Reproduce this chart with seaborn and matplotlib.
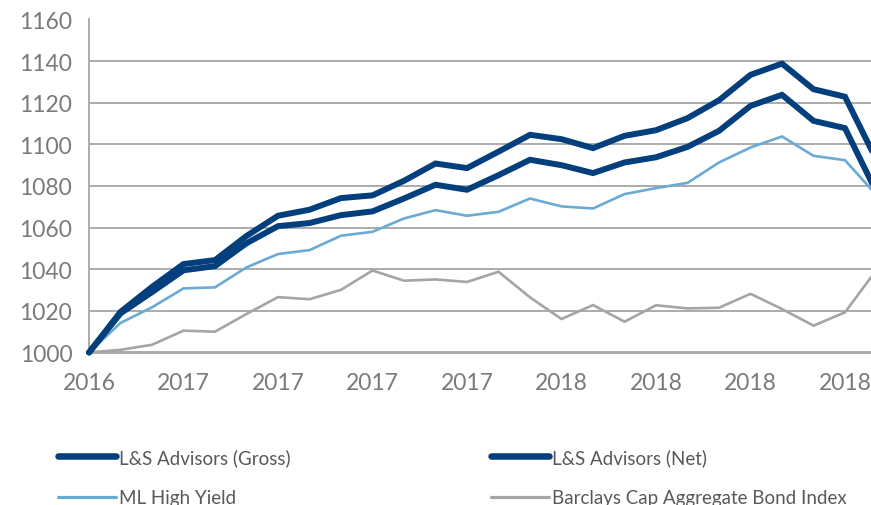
import matplotlib
matplotlib.use("Agg")
import matplotlib.pyplot as plt
import seaborn as sns
from matplotlib.lines import Line2D

# ---------------- data (monthly, indexed to 1000) ----------------
tick_labels = ["2016", "2017", "2017", "2017", "2017", "2018", "2018", "2018", "2018"]

gross = [1000, 1019.5, 1031.5, 1042.5, 1044.4, 1056, 1065.7, 1068.6, 1074.2, 1075.5,
         1082.5, 1090.8, 1088.6, 1096.5, 1104.6, 1102.5, 1098.2, 1104.1, 1106.8, 1112.6,
         1121.2, 1133.4, 1138.8, 1126.5, 1122.9, 1092.5]
net = [1000, 1018.8, 1029, 1039.5, 1041.5, 1052.5, 1060.7, 1062.2, 1066, 1067.8,
       1074, 1080.6, 1078.2, 1085.2, 1092.6, 1090, 1086.2, 1091.3, 1093.8, 1098.8,
       1106.5, 1118.5, 1123.8, 1111.3, 1107.8, 1077]
ml_high_yield = [1000, 1014.2, 1021.7, 1030.8, 1031.3, 1040.9, 1047.3, 1049.2, 1056.1, 1058,
                 1064.4, 1068.4, 1065.7, 1067.6, 1074, 1070.2, 1069.2, 1076.1, 1079, 1081.5,
                 1091.3, 1098.5, 1103.8, 1094.5, 1092.4, 1075.6]
barclays = [1000, 1001.3, 1003.7, 1010.5, 1010, 1018.5, 1026.6, 1025.6, 1030.1, 1039.4,
            1034.5, 1035.1, 1033.9, 1038.8, 1026.5, 1016.1, 1022.8, 1014.8, 1022.7, 1021.2,
            1021.5, 1028.2, 1020.9, 1012.9, 1019.3, 1039.7]

months = list(range(len(gross)))

# ---------------- style ----------------
sns.set_style("white")
plt.rcParams["font.family"] = ["Lato", "DejaVu Sans"]

navy = "#033F7C"
light_blue = "#6AAAD4"
grey_line = "#A5A5A5"
grid_col = "#ABABAB"
tick_col = "#7A7A7A"

fig = plt.figure(figsize=(8.71, 5.06), dpi=100)
ax = fig.add_axes([89 / 871, 1 - 353.5 / 506, (871 - 89) / 871, (353.5 - 20.5) / 506])

series = [
    ("L&S Advisors (Gross)", gross, navy, 4.3),
    ("L&S Advisors (Net)", net, navy, 4.3),
    ("ML High Yield", ml_high_yield, light_blue, 1.9),
    ("Barclays Cap Aggregate Bond Index", barclays, grey_line, 1.9),
]
# draw back to front so the dark lines sit on top
for name, vals, col, lw in reversed(series):
    sns.lineplot(x=months, y=vals, ax=ax, color=col, lw=lw, clip_on=False,
                 solid_joinstyle="miter", zorder=3)

ax.set_xlim(0, 782 / 31.5)
ax.set_ylim(1000, 1160)
ax.set_yticks(range(1000, 1161, 20))
ax.set_xticks(range(0, 25, 3))
ax.set_xticklabels(tick_labels)

ax.grid(axis="y", color=grid_col, lw=1.4)
ax.grid(axis="x", visible=False)
for s in ["top", "right"]:
    ax.spines[s].set_visible(False)
for s in ["left", "bottom"]:
    ax.spines[s].set_color(grid_col)
    ax.spines[s].set_linewidth(1.4)

ax.tick_params(axis="both", colors=grid_col, labelcolor=tick_col, labelsize=16.5,
               direction="out", length=6, width=1.4)
ax.tick_params(axis="y", pad=6)
ax.tick_params(axis="x", pad=8)
ax.set_xlabel("")
ax.set_ylabel("")
if ax.get_legend():
    ax.get_legend().remove()

# legend below the chart, two columns
handles = [Line2D([0], [0], color=c, lw=lw + 0.4, solid_capstyle="round") for _, _, c, lw in series]
labels = [n for n, _, _, _ in series]
order = [0, 2, 1, 3]
fig.legend([handles[i] for i in order], [labels[i] for i in order],
           ncol=2, loc="upper left", bbox_to_anchor=(58 / 871, 1 - 449 / 506),
           frameon=False, fontsize=13.5, labelcolor="#595959",
           handlelength=3.1, handletextpad=0.15, columnspacing=10.7,
           labelspacing=1.25, borderpad=0, borderaxespad=0)

fig.savefig("out.png", dpi=100)
